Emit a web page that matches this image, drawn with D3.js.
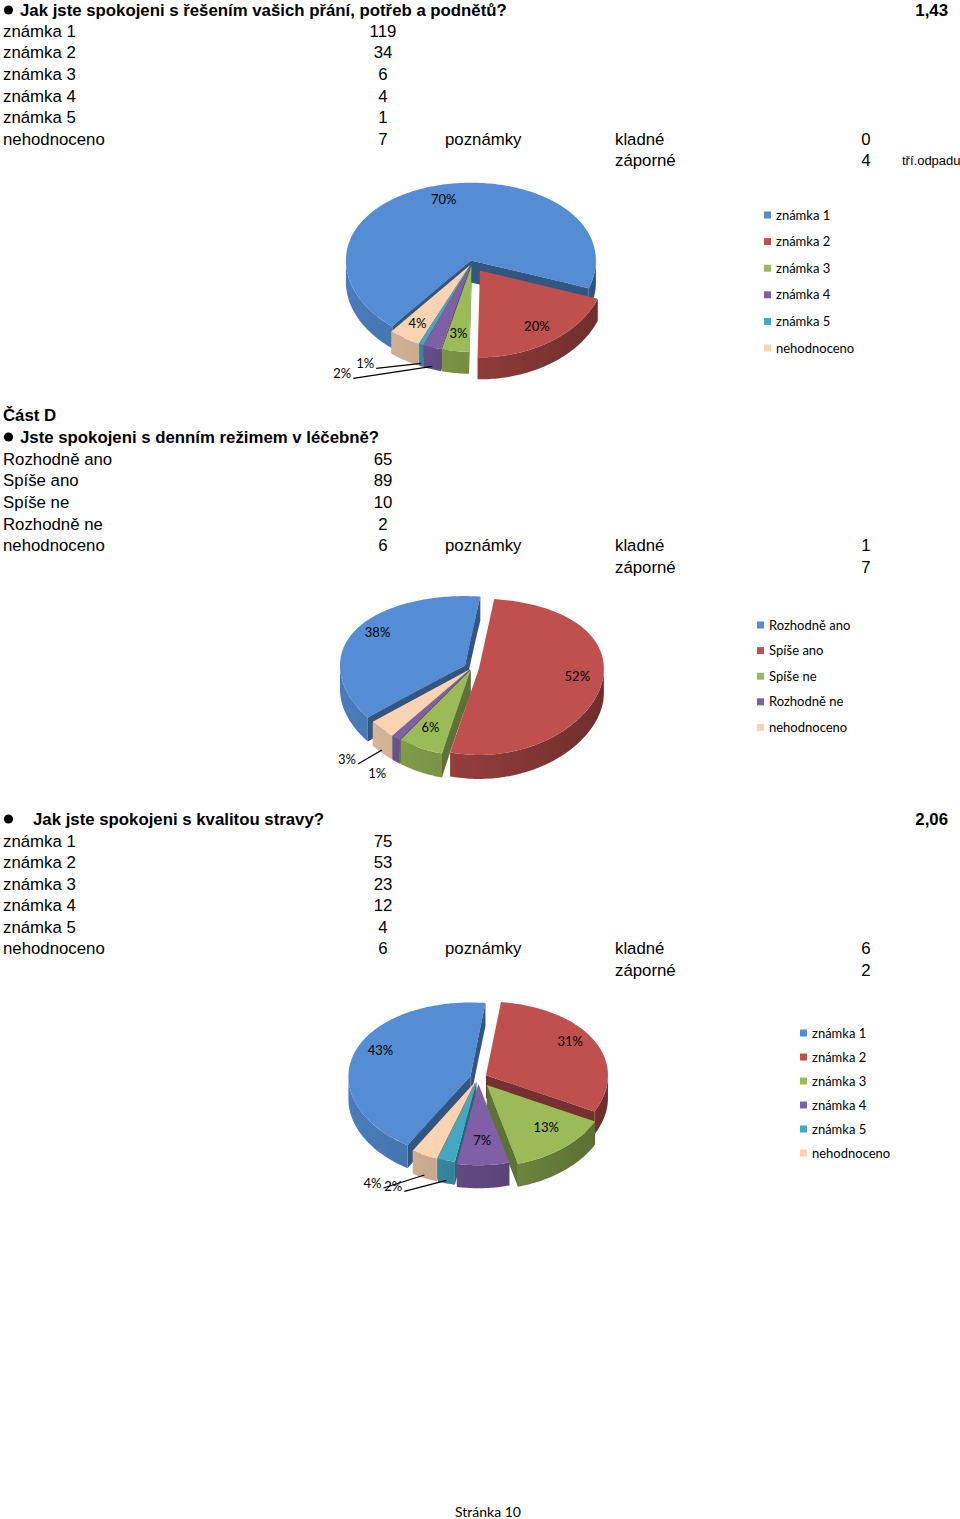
<!DOCTYPE html>
<html>
<head>
<meta charset="utf-8">
<script src="https://cdn.jsdelivr.net/npm/d3@7"></script>
<style>
  body { margin: 0; background: #fff; }
  svg text { font-family: "Liberation Sans", Arial, sans-serif; font-size: 16.8px; fill: #000; }
  svg text.cal { font-family: Lato, "Open Sans", sans-serif; font-size: 13px; }
</style>
</head>
<body>
<div id="chart"></div>
<script>
// ---- data ----
const q1Title = "Jak jste spokojeni s řešením vašich přání, potřeb a podnětů?";
const q1Avg = "1,43";
const q1Cats = ["známka 1", "známka 2", "známka 3", "známka 4", "známka 5", "nehodnoceno"];
const q1Vals = [119, 34, 6, 4, 1, 7];
const q1Pct = ["70%", "20%", "3%", "2%", "1%", "4%"];
const q1Notes = [0, 4];
const q1Extra = "tří.odpadu";

const sectionD = "Část D";
const q2Title = "Jste spokojeni s denním režimem v léčebně?";
const q2Cats = ["Rozhodně ano", "Spíše ano", "Spíše ne", "Rozhodně ne", "nehodnoceno"];
const q2Vals = [65, 89, 10, 2, 6];
const q2Pct = ["38%", "52%", "6%", "1%", "3%"];
const q2Notes = [1, 7];

const q3Title = "Jak jste spokojeni s kvalitou stravy?";
const q3Avg = "2,06";
const q3Cats = ["známka 1", "známka 2", "známka 3", "známka 4", "známka 5", "nehodnoceno"];
const q3Vals = [75, 53, 23, 12, 4, 6];
const q3Pct = ["43%", "31%", "13%", "7%", "2%", "4%"];
const q3Notes = [6, 2];

const noteLabels = ["poznámky", "kladné", "záporné"];
const footer = "Stránka 10";

const W = 960, H = 1519;
const svg = d3.select("#chart").append("svg")
  .attr("width", W)
  .attr("height", H);
const defs = svg.append("defs");

const color = d3.scaleOrdinal()
  .domain(["známka 1", "známka 2", "známka 3", "známka 4", "známka 5", "nehodnoceno",
           "Rozhodně ano", "Spíše ano", "Spíše ne", "Rozhodně ne"])
  .range(["#548DD4", "#C0504D", "#9BBB59", "#7F60A6", "#43A8C4", "#FAD4B2",
          "#548DD4", "#C0504D", "#9BBB59", "#7F60A6"]);

// ---- text tables ----
function bullet(y) {
  svg.append("circle").attr("cx", 8.5).attr("cy", y).attr("r", 4.6).attr("fill", "#000");
}

function title(txt, x, y) {
  svg.append("text").attr("x", x).attr("y", y).attr("dy", "0.35em")
    .attr("font-weight", "bold").text(txt);
}

function table(cats, vals, notes, y0, step) {
  const y = d3.scaleLinear().domain([0, 1]).range([y0, y0 + step]);
  const g = svg.append("g");
  g.selectAll("text.cat").data(cats).join("text")
    .attr("class", "cat")
    .attr("x", 3).attr("y", (d, i) => y(i)).attr("dy", "0.35em")
    .text(d => d);
  g.selectAll("text.val").data(vals).join("text")
    .attr("class", "val")
    .attr("x", 383).attr("y", (d, i) => y(i)).attr("dy", "0.35em")
    .attr("text-anchor", "middle")
    .text(d => d);
  const last = cats.length - 1;
  g.append("text").attr("x", 445).attr("y", y(last)).attr("dy", "0.35em").text(noteLabels[0]);
  g.selectAll("text.nl").data(noteLabels.slice(1)).join("text")
    .attr("class", "nl")
    .attr("x", 615).attr("y", (d, i) => y(last + i)).attr("dy", "0.35em")
    .text(d => d);
  g.selectAll("text.nv").data(notes).join("text")
    .attr("class", "nv")
    .attr("x", 866).attr("y", (d, i) => y(last + i)).attr("dy", "0.35em")
    .attr("text-anchor", "middle")
    .text(d => d);
  return y;
}

// ---- 3D pie ----
function pie3d(p, id) {
  const g = svg.append("g");
  const rad = Math.PI / 180;
  const s0 = p.start * rad;
  const arcs = d3.pie().sort(null).startAngle(s0).endAngle(s0 + 2 * Math.PI)(p.vals);

  const slices = arcs.map((d, i) => {
    const m = (d.startAngle + d.endAngle) / 2;
    const e = p.explode[i] / p.rx;
    return { i, cat: p.cats[i], a0: d.startAngle, a1: d.endAngle, m,
             du: e * Math.sin(m), dv: -e * Math.cos(m) };
  });

  // ground plane (u right, v toward viewer) -> screen, with a little perspective
  const P = (s, th, r, h) => {
    const u = r * Math.sin(th) + s.du;
    const v = -r * Math.cos(th) + s.dv;
    return [p.cx + p.rx * u, p.cy + p.a * v + p.b * v * v + h];
  };
  const arcPts = (s, t0, t1, h) => {
    const n = Math.max(2, Math.ceil(Math.abs(t1 - t0) / 0.02));
    return d3.range(n + 1).map(j => P(s, t0 + (t1 - t0) * j / n, 1, h));
  };
  const radPts = (s, th, h) => d3.range(11).map(j => P(s, th, j / 10, h));
  const line = d3.line();

  slices.forEach(s => {
    const c = d3.color(color(s.cat));
    const gr = defs.append("linearGradient")
      .attr("id", `w${id}_${s.i}`)
      .attr("gradientUnits", "userSpaceOnUse")
      .attr("x1", p.cx - p.rx).attr("x2", p.cx + p.rx)
      .attr("y1", 0).attr("y2", 0);
    gr.append("stop").attr("offset", 0).attr("stop-color", c.darker(0.35));
    gr.append("stop").attr("offset", 0.5).attr("stop-color", c.darker(0.8));
    gr.append("stop").attr("offset", 1).attr("stop-color", c.darker(1.5));
  });

  // radial cut faces
  const radial = [];
  slices.forEach(s => {
    if (Math.sin(s.a0) < 0) radial.push({ s, th: s.a0 });
    if (Math.sin(s.a1) > 0) radial.push({ s, th: s.a1 });
  });
  radial.forEach(f => { f.key = -0.5 * Math.cos(f.th) + f.s.dv; });
  radial.sort((a, b) => a.key - b.key);
  g.selectAll("path.rad").data(radial).join("path")
    .attr("class", "rad")
    .attr("d", f => line(radPts(f.s, f.th, 0).concat(radPts(f.s, f.th, p.depth).reverse())) + "Z")
    .attr("fill", f => d3.color(color(f.s.cat)).darker(1.4));

  // outer walls, only the part facing the viewer
  const walls = [];
  slices.forEach(s => {
    for (let k = -1; k <= 2; k++) {
      const lo = Math.max(s.a0, Math.PI / 2 + 2 * Math.PI * k);
      const hi = Math.min(s.a1, 3 * Math.PI / 2 + 2 * Math.PI * k);
      if (hi > lo) walls.push({ s, lo, hi, key: -Math.cos((lo + hi) / 2) + s.dv });
    }
  });
  walls.sort((a, b) => a.key - b.key);
  g.selectAll("path.wall").data(walls).join("path")
    .attr("class", "wall")
    .attr("d", w => line(arcPts(w.s, w.lo, w.hi, 0).concat(arcPts(w.s, w.lo, w.hi, p.depth).reverse())) + "Z")
    .attr("fill", w => `url(#w${id}_${w.s.i})`);

  // top faces
  const tops = slices.slice().sort((a, b) => (-Math.cos(a.m) + a.dv) - (-Math.cos(b.m) + b.dv));
  g.selectAll("path.top").data(tops).join("path")
    .attr("class", "top")
    .attr("d", s => line([P(s, 0, 0, 0)].concat(arcPts(s, s.a0, s.a1, 0))) + "Z")
    .attr("fill", s => color(s.cat));

  // data labels
  slices.forEach(s => {
    const out = p.outside[s.i];
    if (out) {
      const b = P(s, s.m, 1, p.depth - 3);
      const lx = b[0] + out[0], ly = b[1] + out[1];
      if (Math.hypot(out[0], out[1]) > 25) {
        g.append("path")
          .attr("d", line([[lx + 2, ly + 5], b]))
          .attr("stroke", "#000").attr("stroke-width", 1.2).attr("fill", "none");
      }
      g.append("text").attr("class", "cal")
        .attr("x", lx).attr("y", ly).attr("dy", "0.35em")
        .attr("text-anchor", "end")
        .attr("fill", "#1b1b2b")
        .text(p.pct[s.i]);
    } else {
      const c = P(s, s.m, p.labelR, 0);
      g.append("text").attr("class", "cal")
        .attr("x", c[0]).attr("y", c[1] - p.labelLift).attr("dy", "0.35em")
        .attr("text-anchor", "middle")
        .attr("fill", "#1b1b2b")
        .text(p.pct[s.i]);
    }
  });

  // legend
  const ly = d3.scaleLinear().domain([0, 1]).range([p.legend.y, p.legend.y + p.legend.step]);
  const lg = g.append("g");
  lg.selectAll("rect").data(p.cats).join("rect")
    .attr("x", p.legend.x).attr("y", (d, i) => ly(i) - 3.5)
    .attr("width", 7).attr("height", 7)
    .attr("fill", d => color(d));
  lg.selectAll("text").data(p.cats).join("text")
    .attr("class", "cal")
    .attr("x", p.legend.x + 12).attr("y", (d, i) => ly(i)).attr("dy", "0.35em")
    .text(d => d);
}

// ---- section 1 ----
bullet(10);
title(q1Title, 20, 10);
svg.append("text").attr("x", 948).attr("y", 10).attr("dy", "0.35em")
  .attr("text-anchor", "end").attr("font-weight", "bold").text(q1Avg);
const y1 = table(q1Cats, q1Vals, q1Notes, 31, 21.6);
svg.append("text").attr("x", 902).attr("y", y1(q1Cats.length)).attr("dy", "0.35em")
  .style("font-size", "13px").text(q1Extra);

pie3d({
  cats: q1Cats, vals: q1Vals, pct: q1Pct,
  cx: 472, cy: 263, rx: 125, a: 82, b: 4, depth: 22, start: 219,
  explode: [4, 14, 4, 4, 4, 4], labelR: 0.8, labelLift: 0,
  outside: { 3: [-81, 7], 4: [-47, 0] },
  legend: { x: 764, y: 215, step: 26.6 }
}, 1);

// ---- section 2 ----
title(sectionD, 3, 415);
bullet(437);
title(q2Title, 20, 437);
table(q2Cats, q2Vals, q2Notes, 459, 21.6);

pie3d({
  cats: q2Cats, vals: q2Vals, pct: q2Pct,
  cx: 472, cy: 668, rx: 125, a: 78, b: 8, depth: 24, start: 231,
  explode: [8, 7, 3, 3, 3], labelR: 0.8, labelLift: 4,
  outside: { 3: [-10, 15], 4: [-26, 9] },
  legend: { x: 757, y: 625, step: 25.6 }
}, 2);

// ---- section 3 ----
bullet(819);
title(q3Title, 33, 819);
svg.append("text").attr("x", 948).attr("y", 819).attr("dy", "0.35em")
  .attr("text-anchor", "end").attr("font-weight", "bold").text(q3Avg);
table(q3Cats, q3Vals, q3Notes, 841, 21.5);

pie3d({
  cats: q3Cats, vals: q3Vals, pct: q3Pct,
  cx: 478, cy: 1078, rx: 122, a: 77.5, b: 3.5, depth: 23, start: 211,
  explode: [8, 9, 14, 9, 6, 6], labelR: 0.78, labelLift: 6,
  outside: { 4: [-44, 6], 5: [-43, 8] },
  legend: { x: 800, y: 1033, step: 24 }
}, 3);

svg.append("text").attr("class", "cal")
  .attr("x", 488).attr("y", 1512).attr("dy", "0.35em")
  .attr("text-anchor", "middle").style("font-size", "14px")
  .text(footer);
</script>
</body>
</html>
